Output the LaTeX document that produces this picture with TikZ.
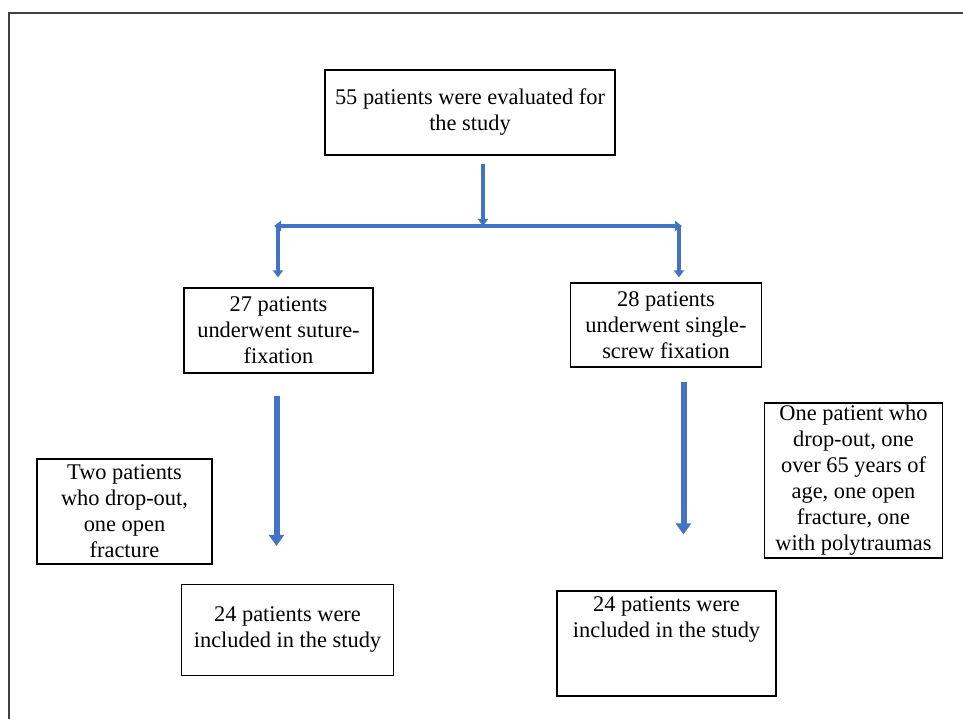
\documentclass[tikz,border=0pt]{standalone}
\usepackage{fontspec}
\setmainfont{LiberationSerif}[Extension=.ttf, UprightFont=*-Regular, BoldFont=*-Bold]
\usetikzlibrary{arrows.meta}
\definecolor{flowblue}{RGB}{68,114,196}
\tikzset{
  flowtip/.tip={Triangle[width=10pt,length=7pt]},
  bigtip/.tip={Triangle[width=15pt,length=11pt]}
}

\begin{document}
\begin{tikzpicture}[x=1pt, y=1pt,
  box/.style={draw=black, line width=1.2pt, align=center, inner sep=0pt,
    font=\rmfamily\fontsize{22.4}{26}\selectfont},
  txt/.style={align=center, inner sep=0pt, font=\rmfamily\fontsize{22.4}{26}\selectfont},
  flow/.style={draw=flowblue, line width=3.5pt, -flowtip},
  bigflow/.style={draw=flowblue, line width=6pt, -bigtip}]
  \useasboundingbox (0,0) rectangle (963,719);
  \draw[line width=1.5pt, draw=black!75] (9,0) -- (9,706) -- (963,706);

  \node[box, minimum width=290, minimum height=85] (eval) at (470,606.5)
    {55 patients were evaluated for\\ the study};
  \node[box, minimum width=189, minimum height=85] (sut) at (278.5,388.5)
    {27 patients\\ underwent suture-\\ fixation};
  \node[box, minimum width=191, minimum height=84] (scr) at (666,394)
    {28 patients\\ underwent single-\\ screw fixation};
  \node[box, minimum width=175, minimum height=105] (dropL) at (124.5,207.5)
    {Two patients\\ who drop-out,\\ one open\\ fracture};
  \node[box, minimum width=178, minimum height=155] (dropR) at (853.5,238.5)
    {One patient who\\ drop-out, one\\ over 65 years of\\ age, one open\\ fracture, one\\ with polytraumas};
  \node[box, minimum width=212, minimum height=91] (inclL) at (287.5,89)
    {24 patients were\\ included in the study};
  \node[box, minimum width=219, minimum height=105] (inclR) at (666.5,75.5) {};
  \node[txt] (inclRtext) at ([yshift=-29pt]inclR.north)
    {24 patients were\\ included in the study};

  \coordinate (split) at (483,493);
  \coordinate (barL) at (274,493);
  \coordinate (barR) at (682,493);
  \coordinate (armL) at (278,493);
  \coordinate (armR) at (679,493);

  \draw[flow] ([xshift=13pt,yshift=-8pt]eval.south) -- (split);
  \draw[flow, flowtip-flowtip] (barL) -- (barR);
  \draw[flow] (armL) -- ([yshift=10pt]sut.north -| armL);
  \draw[flow] (armR) -- ([yshift=5pt]scr.north -| armR);
  \draw[bigflow] ([xshift=-2pt,yshift=-22pt]sut.south) -- ([xshift=-11pt,yshift=38pt]inclL.north);
  \draw[bigflow] ([xshift=17.5pt,yshift=-14pt]scr.south) -- ([xshift=17pt,yshift=56pt]inclR.north);
\end{tikzpicture}
\end{document}
